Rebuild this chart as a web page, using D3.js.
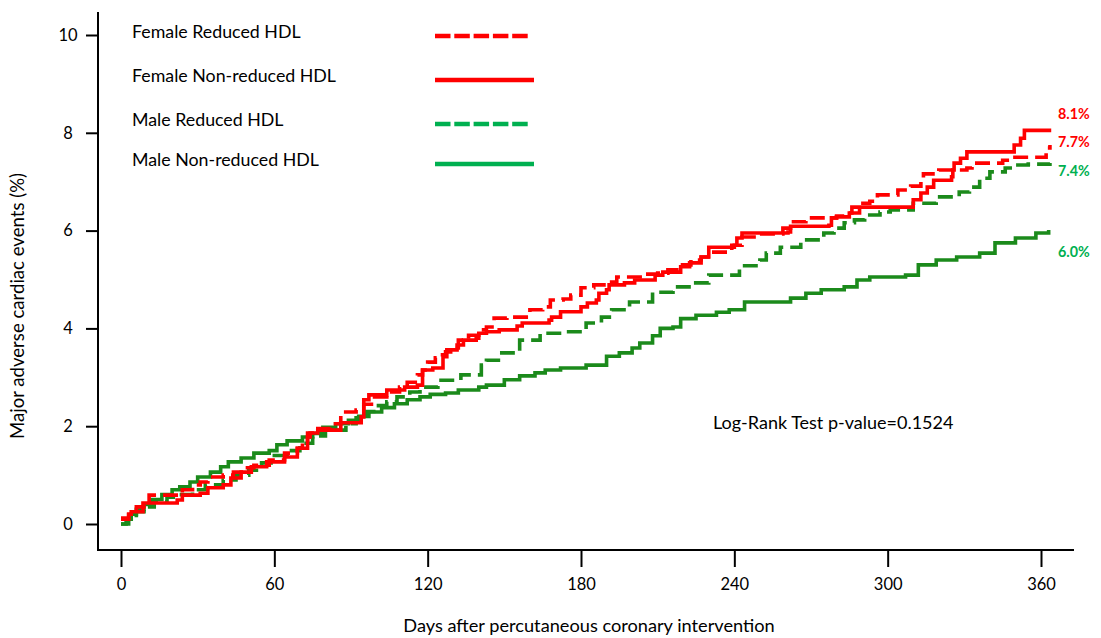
<!DOCTYPE html>
<html>
<head>
<meta charset="utf-8">
<script src="https://cdn.jsdelivr.net/npm/d3@7"></script>
<style>
  html, body { margin: 0; padding: 0; background: #fff; }
  svg { display: block; }
  text { font-family: Lato, "Open Sans", sans-serif; fill: #000; }
</style>
</head>
<body>
<svg id="chart" width="1101" height="638"></svg>
<script>
// ---------------- DATA ----------------
const xTicks = [0, 60, 120, 180, 240, 300, 360];
const yTicks = [0, 2, 4, 6, 8, 10];

const seriesNames = ["Female Reduced HDL", "Female Non-reduced HDL", "Male Reduced HDL", "Male Non-reduced HDL"];
const endLabels = ["7.7%", "8.1%", "7.4%", "6.0%"];

const femRedDays = [0, 3, 6, 9, 11, 20, 24, 28, 31, 34, 40, 44, 48, 52, 58, 64, 69, 71, 73, 77, 82, 86, 92, 95, 98, 104, 109, 112, 116, 118, 120, 123, 125, 127, 129, 132, 136, 140, 143, 146, 151, 160, 165, 168, 173, 176, 180, 185, 190, 194, 204, 210, 214, 219, 223, 227, 231, 239, 243, 250, 259, 262, 268, 280, 283, 289, 293, 296, 304, 309, 313, 314, 320, 331, 333, 345, 349, 362, 363.5];
const femRedPct  = [0.1, 0.2, 0.35, 0.45, 0.59, 0.59, 0.7, 0.8, 0.86, 0.96, 1.0, 1.06, 1.15, 1.2, 1.31, 1.45, 1.55, 1.66, 1.86, 1.95, 2.05, 2.29, 2.33, 2.45, 2.6, 2.7, 2.8, 2.9, 3.05, 3.15, 3.31, 3.4, 3.46, 3.52, 3.6, 3.76, 3.86, 3.97, 4.03, 4.21, 4.23, 4.38, 4.44, 4.58, 4.6, 4.68, 4.83, 4.89, 4.95, 5.05, 5.11, 5.13, 5.2, 5.3, 5.4, 5.46, 5.56, 5.7, 5.87, 5.93, 6.05, 6.18, 6.26, 6.3, 6.36, 6.56, 6.6, 6.73, 6.83, 6.91, 7.03, 7.16, 7.24, 7.28, 7.38, 7.44, 7.5, 7.69, 7.75];

const femNonDays = [0, 3, 4, 8.6, 22, 24, 31, 34, 40, 43, 47, 51, 57, 64, 69, 73, 74, 77, 86, 94, 95, 97, 104, 111, 116, 118, 122, 126, 127.5, 131.5, 134, 139, 140, 143, 148, 155, 157, 167.5, 168.5, 172, 180, 182.5, 186, 187, 190, 191, 197, 201, 209, 212, 219, 222.5, 227, 230, 240, 241, 243, 261, 262, 277, 278, 280, 285, 286, 309, 310, 313, 315.5, 318, 325, 325.5, 326, 328.5, 331, 349, 349.5, 352, 353.5, 364];
const femNonPct  = [0.12, 0.2, 0.25, 0.43, 0.49, 0.59, 0.63, 0.74, 0.8, 0.94, 1.06, 1.17, 1.27, 1.37, 1.55, 1.78, 1.86, 1.92, 2.07, 2.19, 2.54, 2.64, 2.74, 2.8, 2.84, 3.15, 3.19, 3.42, 3.56, 3.66, 3.76, 3.8, 3.9, 3.93, 3.97, 4.05, 4.11, 4.17, 4.23, 4.34, 4.44, 4.52, 4.58, 4.72, 4.79, 4.89, 4.93, 4.99, 5.09, 5.15, 5.26, 5.34, 5.46, 5.66, 5.7, 5.85, 5.95, 5.97, 6.09, 6.11, 6.26, 6.28, 6.36, 6.48, 6.48, 6.63, 6.77, 6.89, 7.03, 7.1, 7.24, 7.38, 7.48, 7.61, 7.61, 7.75, 7.89, 8.05, 8.05];

const maleRedDays = [0, 3, 6, 9, 13, 18, 22, 28, 33, 40, 45, 50, 55, 60, 65, 70, 75, 80, 88, 92, 96, 100, 104, 108, 113, 117, 124, 133, 141, 143, 149, 156, 164, 174, 182, 188, 192, 199, 208, 216, 223, 230, 242, 250, 252.5, 258, 266, 275, 279, 283, 287, 291, 297, 301, 310, 319, 328, 332, 336, 340, 346, 350, 355, 363.5];
const maleRedPct  = [0, 0.1, 0.25, 0.35, 0.45, 0.55, 0.6, 0.7, 0.8, 0.9, 1.0, 1.1, 1.25, 1.4, 1.5, 1.65, 1.8, 1.92, 2.05, 2.17, 2.3, 2.42, 2.5, 2.6, 2.7, 2.8, 2.94, 3.05, 3.25, 3.35, 3.5, 3.76, 3.9, 3.93, 4.11, 4.23, 4.38, 4.54, 4.74, 4.85, 4.93, 5.09, 5.28, 5.4, 5.54, 5.66, 5.81, 5.95, 6.05, 6.16, 6.22, 6.32, 6.38, 6.42, 6.56, 6.69, 6.79, 6.89, 7.07, 7.2, 7.28, 7.34, 7.36, 7.38];

const maleNonDays = [0, 2, 4, 6, 9, 12, 16, 20, 23, 27, 30, 35, 39, 42, 47, 52, 58, 61, 65, 71, 75, 79, 84, 89, 93, 97, 102, 107, 112, 117, 121, 127, 132, 140, 143, 150, 156, 162, 166, 172, 182, 190, 195, 200, 203, 208, 211, 216, 219, 225, 233, 238, 244, 262, 268, 274, 283, 288, 293, 307, 312, 319, 327, 336, 342, 350, 358, 363];
const maleNonPct  = [0, 0.1, 0.2, 0.3, 0.4, 0.5, 0.6, 0.7, 0.76, 0.86, 0.96, 1.06, 1.17, 1.27, 1.35, 1.45, 1.5, 1.62, 1.7, 1.78, 1.85, 1.98, 2.05, 2.12, 2.2, 2.29, 2.38, 2.46, 2.54, 2.6, 2.65, 2.68, 2.74, 2.8, 2.84, 2.95, 3.03, 3.09, 3.15, 3.19, 3.25, 3.43, 3.5, 3.6, 3.7, 3.85, 4.0, 4.03, 4.2, 4.27, 4.33, 4.38, 4.54, 4.62, 4.72, 4.79, 4.85, 4.99, 5.05, 5.09, 5.3, 5.4, 5.46, 5.54, 5.75, 5.85, 5.95, 6.01];

// ---------------- CHART ----------------
const svg = d3.select("#chart");
svg.append("rect").attr("width", 1101).attr("height", 638).attr("fill", "#fff");

const x = d3.scaleLinear().domain([0, 360]).range([121, 1041]);
const y = d3.scaleLinear().domain([0, 10]).range([524, 35]);

const RED = "#ff0000", DKGREEN = "#1b8a1b", LTGREEN = "#00b050";

const series = [
  { name: seriesNames[0], days: femRedDays,  pct: femRedPct,  color: RED,     dash: "15,7", legColor: RED,     legDash: "15.5,3.8", label: endLabels[0], labColor: RED,     labY: 143 },
  { name: seriesNames[1], days: femNonDays,  pct: femNonPct,  color: RED,     dash: null,   legColor: RED,     legDash: null,       label: endLabels[1], labColor: RED,     labY: 115 },
  { name: seriesNames[2], days: maleRedDays, pct: maleRedPct, color: DKGREEN, dash: "15,7", legColor: LTGREEN, legDash: "15.5,3.8", label: endLabels[2], labColor: LTGREEN, labY: 172 },
  { name: seriesNames[3], days: maleNonDays, pct: maleNonPct, color: DKGREEN, dash: null,   legColor: LTGREEN, legDash: null,       label: endLabels[3], labColor: LTGREEN, labY: 253 }
];

const line = d3.line().curve(d3.curveStepAfter).x(d => x(d[0])).y(d => y(d[1]));

// draw order: male first, then female on top
[3, 2, 1, 0].forEach(i => {
  const s = series[i];
  const pts = s.days.map((d, k) => [d, s.pct[k]]);
  svg.append("path")
    .attr("d", line(pts))
    .attr("fill", "none")
    .attr("stroke", s.color)
    .attr("stroke-width", 3.6)
    .attr("stroke-dasharray", s.dash)
    .attr("stroke-linejoin", "miter");
});

// Y axis
const yAxis = d3.axisLeft(y).tickValues(yTicks).tickSize(12).tickSizeOuter(0).tickFormat(d3.format("d"));
const gy = svg.append("g").attr("transform", "translate(98,0)").call(yAxis);
gy.select(".domain").remove();
gy.selectAll(".tick line").attr("stroke", "#000").attr("stroke-width", 2);
gy.selectAll(".tick text").attr("text-anchor", "middle").attr("x", -30).attr("font-size", 16.5).attr("font-family", "Lato, sans-serif");
svg.append("line").attr("x1", 98).attr("x2", 98).attr("y1", 12).attr("y2", 550).attr("stroke", "#000").attr("stroke-width", 2);

// X axis
const xAxis = d3.axisBottom(x).tickValues(xTicks).tickSize(17).tickSizeOuter(0).tickFormat(d3.format("d"));
const gx = svg.append("g").attr("transform", "translate(0,550)").call(xAxis);
gx.select(".domain").remove();
gx.selectAll(".tick line").attr("stroke", "#000").attr("stroke-width", 2);
gx.selectAll(".tick text").attr("y", 34).attr("dy", "0.35em").attr("font-size", 16.5).attr("font-family", "Lato, sans-serif");
svg.append("line").attr("x1", 97).attr("x2", 1074).attr("y1", 550).attr("y2", 550).attr("stroke", "#000").attr("stroke-width", 2);

// Axis titles
svg.append("text").attr("x", 589).attr("y", 627).attr("text-anchor", "middle").attr("dominant-baseline", "middle")
  .attr("font-size", 18.2).text("Days after percutaneous coronary intervention");
svg.append("text").attr("transform", "translate(19,306) rotate(-90)").attr("text-anchor", "middle").attr("dominant-baseline", "middle")
  .attr("font-size", 18.6).text("Major adverse cardiac events (%)");

// Legend
const legY = [35, 79, 123, 163];
series.forEach((s, i) => {
  svg.append("text").attr("x", 132).attr("y", legY[i] - 2).attr("dominant-baseline", "middle").attr("font-size", 17.8).text(s.name);
  svg.append("line").attr("x1", 435).attr("x2", s.legDash ? 531 : 534).attr("y1", legY[i] + 1).attr("y2", legY[i] + 1)
    .attr("stroke", s.legColor).attr("stroke-width", 4.5).attr("stroke-dasharray", s.legDash);
});

// End labels
series.forEach(s => {
  svg.append("text").attr("x", 1058).attr("y", s.labY).attr("dominant-baseline", "middle")
    .attr("font-size", 14.3).attr("font-weight", "bold").attr("fill", s.labColor).style("fill", s.labColor).text(s.label);
});

// Log-rank annotation
svg.append("text").attr("x", 713).attr("y", 424).attr("dominant-baseline", "middle").attr("font-size", 18)
  .text("Log-Rank Test p-value=0.1524");
</script>
</body>
</html>
